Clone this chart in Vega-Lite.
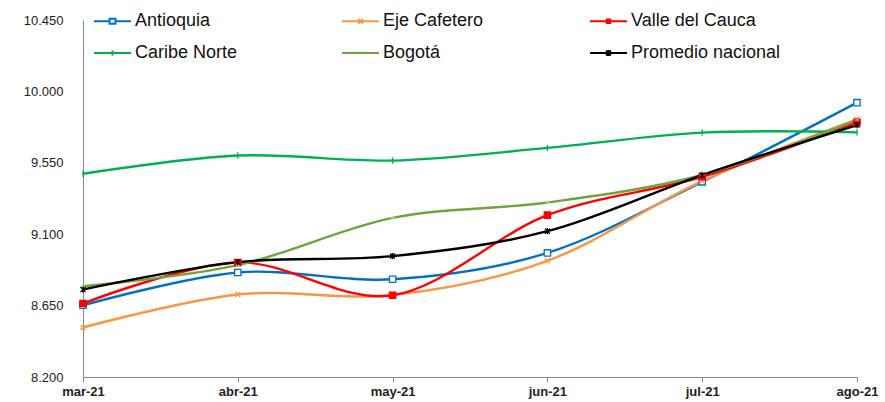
{
  "$schema": "https://vega.github.io/schema/vega-lite/v6.json",
  "width": 774,
  "height": 357,
  "autosize": "none",
  "padding": {"left": 83, "top": 20, "right": 28, "bottom": 25},
  "background": "white",
  "config": {
    "view": {"stroke": null},
    "font": "Liberation Sans",
    "axis": {"grid": false, "domainColor": "#888888", "tickColor": "#888888", "labelColor": "#222222", "labelFont": "Liberation Sans"}
  },
  "data": {
    "values": [
      {"mes": "mar-21", "serie": "Antioquia", "valor": 8652},
      {"mes": "abr-21", "serie": "Antioquia", "valor": 8859},
      {"mes": "may-21", "serie": "Antioquia", "valor": 8816},
      {"mes": "jun-21", "serie": "Antioquia", "valor": 8982},
      {"mes": "jul-21", "serie": "Antioquia", "valor": 9430},
      {"mes": "ago-21", "serie": "Antioquia", "valor": 9929},
      {"mes": "mar-21", "serie": "Eje Cafetero", "valor": 8512},
      {"mes": "abr-21", "serie": "Eje Cafetero", "valor": 8720},
      {"mes": "may-21", "serie": "Eje Cafetero", "valor": 8717},
      {"mes": "jun-21", "serie": "Eje Cafetero", "valor": 8932},
      {"mes": "jul-21", "serie": "Eje Cafetero", "valor": 9435},
      {"mes": "ago-21", "serie": "Eje Cafetero", "valor": 9824},
      {"mes": "mar-21", "serie": "Valle del Cauca", "valor": 8663},
      {"mes": "abr-21", "serie": "Valle del Cauca", "valor": 8922},
      {"mes": "may-21", "serie": "Valle del Cauca", "valor": 8715},
      {"mes": "jun-21", "serie": "Valle del Cauca", "valor": 9220},
      {"mes": "jul-21", "serie": "Valle del Cauca", "valor": 9462},
      {"mes": "ago-21", "serie": "Valle del Cauca", "valor": 9805},
      {"mes": "mar-21", "serie": "Caribe Norte", "valor": 9481},
      {"mes": "abr-21", "serie": "Caribe Norte", "valor": 9596},
      {"mes": "may-21", "serie": "Caribe Norte", "valor": 9564},
      {"mes": "jun-21", "serie": "Caribe Norte", "valor": 9644},
      {"mes": "jul-21", "serie": "Caribe Norte", "valor": 9740},
      {"mes": "ago-21", "serie": "Caribe Norte", "valor": 9742},
      {"mes": "mar-21", "serie": "Bogotá", "valor": 8772},
      {"mes": "abr-21", "serie": "Bogotá", "valor": 8905},
      {"mes": "may-21", "serie": "Bogotá", "valor": 9203},
      {"mes": "jun-21", "serie": "Bogotá", "valor": 9300},
      {"mes": "jul-21", "serie": "Bogotá", "valor": 9473},
      {"mes": "ago-21", "serie": "Bogotá", "valor": 9820},
      {"mes": "mar-21", "serie": "Promedio nacional", "valor": 8751},
      {"mes": "abr-21", "serie": "Promedio nacional", "valor": 8924},
      {"mes": "may-21", "serie": "Promedio nacional", "valor": 8962},
      {"mes": "jun-21", "serie": "Promedio nacional", "valor": 9119},
      {"mes": "jul-21", "serie": "Promedio nacional", "valor": 9473},
      {"mes": "ago-21", "serie": "Promedio nacional", "valor": 9788}
    ]
  },
  "encoding": {
    "x": {
      "field": "mes", "type": "ordinal", "sort": null,
      "scale": {"type": "point", "padding": 0, "domain": ["mar-21", "abr-21", "may-21", "jun-21", "jul-21", "ago-21"]},
      "axis": {"title": null, "labelAngle": 0, "labelFontWeight": "bold", "labelFontSize": 13, "labelPadding": 3, "tickSize": 5}
    },
    "y": {
      "field": "valor", "type": "quantitative",
      "scale": {"domain": [8200, 10450], "nice": false, "zero": false},
      "axis": {"title": null, "values": [8200, 8650, 9100, 9550, 10000, 10450], "labelExpr": "replace(format(datum.value, ',.0f'), ',', '.')", "labelFontSize": 13, "ticks": false, "labelPadding": 20}
    }
  },
  "layer": [
    {
      "mark": {"type": "line", "interpolate": "cardinal", "strokeWidth": 2.4},
      "encoding": {
        "color": {
          "field": "serie", "type": "nominal",
          "scale": {
            "domain": ["Antioquia", "Eje Cafetero", "Valle del Cauca", "Caribe Norte", "Bogotá", "Promedio nacional"],
            "range": ["#0070C0", "#F79646", "#FF0000", "#00B050", "#70A33F", "#000000"]
          },
          "legend": {
            "title": null,
            "orient": "none",
            "legendX": 10,
            "legendY": -18.5,
            "direction": "horizontal",
            "columns": 3,
            "gridAlign": "all",
            "columnPadding": 53,
            "rowPadding": 3,
            "padding": 0,
            "labelFontSize": 18,
            "labelFont": "Liberation Sans",
            "labelColor": "#111111",
            "labelOffset": 3,
            "labelLimit": 300,
            "symbolType": "stroke",
            "symbolSize": 1369,
            "symbolStrokeWidth": 2,
            "encode": {
              "symbols": {
                "update": {
                  "shape": {"signal": "datum.value === 'Antioquia' ? 'M-1,0L-0.16,0M0.16,0L1,0M-0.16,-0.14L0.16,-0.14L0.16,0.14L-0.16,0.14Z' : datum.value === 'Eje Cafetero' ? 'M-1,0L1,0M-0.13,-0.13L0.13,0.13M-0.13,0.13L0.13,-0.13' : datum.value === 'Valle del Cauca' ? 'M-1,0L1,0M-0.09,-0.09L0.09,-0.09L0.09,0.09L-0.09,0.09Z' : datum.value === 'Caribe Norte' ? 'M-1,0L1,0M0,-0.14L0,0.14' : datum.value === 'Bogotá' ? 'M-1,0L1,0' : 'M-1,0L1,0M-0.13,-0.13L0.13,0.13M-0.13,0.13L0.13,-0.13M0,-0.16L0,0.16'"},
                  "fill": {"signal": "datum.value === 'Antioquia' ? 'white' : datum.value === 'Valle del Cauca' ? '#FF0000' : 'transparent'"}
                }
              }
            }
          }
        }
      }
    },
    {
      "mark": {"type": "point", "filled": false, "size": 40, "strokeWidth": 1.3, "opacity": 1},
      "encoding": {
        "shape": {
          "condition": [
            {"test": "datum.serie === 'Antioquia'", "value": "square"},
            {"test": "datum.serie === 'Eje Cafetero'", "value": "M-0.8,-0.8L0.8,0.8M-0.8,0.8L0.8,-0.8"},
            {"test": "datum.serie === 'Valle del Cauca'", "value": "square"},
            {"test": "datum.serie === 'Caribe Norte'", "value": "M0,-1L0,1"},
            {"test": "datum.serie === 'Bogotá'", "value": "M-0.6,0L0.6,0"}
          ],
          "value": "M-0.8,-0.8L0.8,0.8M-0.8,0.8L0.8,-0.8M0,-1L0,1"
        },
        "stroke": {
          "condition": [
            {"test": "datum.serie === 'Antioquia'", "value": "#0070C0"},
            {"test": "datum.serie === 'Eje Cafetero'", "value": "#F79646"},
            {"test": "datum.serie === 'Valle del Cauca'", "value": "#FF0000"},
            {"test": "datum.serie === 'Caribe Norte'", "value": "#00B050"},
            {"test": "datum.serie === 'Bogotá'", "value": "#C4D9A8"}
          ],
          "value": "#000000"
        },
        "fill": {
          "condition": [
            {"test": "datum.serie === 'Antioquia'", "value": "#FFFFFF"},
            {"test": "datum.serie === 'Valle del Cauca'", "value": "#FF0000"}
          ],
          "value": "transparent"
        }
      }
    }
  ]
}
